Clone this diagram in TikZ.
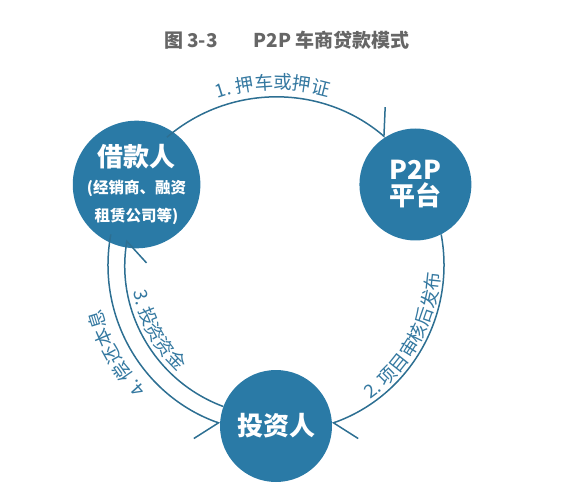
\documentclass[tikz,border=0pt]{standalone}
\usepackage{fontspec}
\setmainfont{Noto Sans CJK SC}
\usetikzlibrary{calc,positioning,arrows.meta,decorations.text}
\definecolor{discblue}{HTML}{2A7AA6}
\definecolor{linkblue}{HTML}{2D6F92}
\definecolor{labelblue}{HTML}{3478A0}
\definecolor{titlegray}{HTML}{666666}
\newcommand{\labelfont}{\color{labelblue}\fontsize{18.5}{18}\selectfont}

\begin{document}
\begin{tikzpicture}[x=1pt,y=1pt,
  party/.style={circle, fill=discblue, text=white, minimum size=112pt, inner sep=0pt,
    align=center, font=\bfseries\fontsize{26}{30}\selectfont},
  link/.style={draw=linkblue, line width=1.5pt,
    -{Straight Barb[harpoon,length=18pt,width=46pt]}},
  linkswap/.style={draw=linkblue, line width=1.5pt,
    -{Straight Barb[harpoon,swap,length=18pt,width=46pt]}},
  along/.style={decorate, decoration={text along path, text align=center, text={#1}}}]
\useasboundingbox (0,0) rectangle (571,-492);

\node[text=titlegray, font=\bfseries\fontsize{19}{21}\selectfont] (title) at (287,-40) {图 3-3\hspace{1.9em}P2P 车商贷款模式};

\coordinate (hub) at (276,-265);
\node[party] (borrower) at ($(hub)+(150:161)$) {借款人\\[-3pt]{\fontsize{15.5}{17}\selectfont (经销商、融资}\\[-2pt]{\fontsize{15.5}{17}\selectfont 租赁公司等)}};
\node[party] (platform) at ($(hub)+(30:161)$) {P2P\\[-4pt]平台};
\node[party] (investor) at ($(hub)+(270:161)$) {投资人};

\coordinate (pledge) at ($(hub)+(130.5:168)$);
\coordinate (review) at ($(hub)+(10.5:168)$);
\coordinate (repay) at ($(hub)+(169.5:168)$);
\coordinate (fund) at ($(hub)+(249.6:151)$);

\draw[link] (pledge) arc[start angle=130.5, end angle=49.5, radius=168];
\draw[link] (review) arc[start angle=10.5, end angle=-70.5, radius=168];
\draw[linkswap] (repay) arc[start angle=169.5, end angle=250.5, radius=168];
\draw[linkswap] (fund) arc[start angle=249.6, end angle=170.4, radius=151];

\path[along={|\labelfont|1. 押车或押证}] ($(hub)+(131:176)$) arc[start angle=131, end angle=51, radius=176];
\path[along={|\labelfont|2. 项目审核后发布}] ($(hub)+(286:164)$) arc[start angle=286, end angle=376, radius=164];
\path[along={|\labelfont|3. 投资资金}] ($(hub)+(169:145)$) arc[start angle=169, end angle=249, radius=145];
\path[along={|\labelfont|4. 偿还本息}] ($(hub)+(249:180)$) arc[start angle=249, end angle=169, radius=180];
\end{tikzpicture}
\end{document}
